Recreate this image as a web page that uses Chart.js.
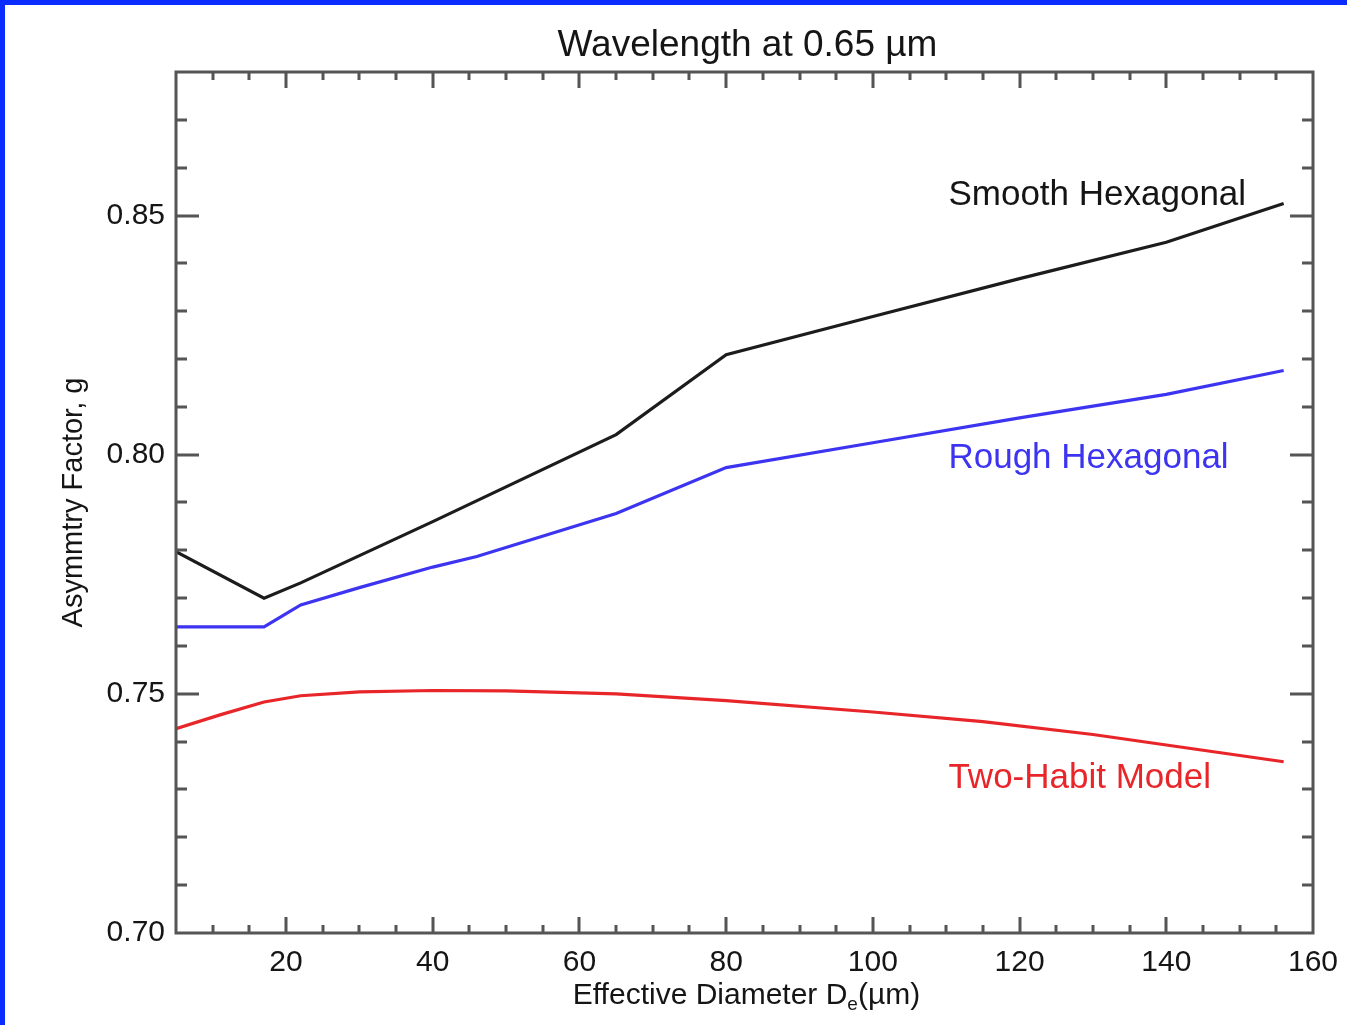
<!DOCTYPE html>
<html>
<head>
<meta charset="utf-8">
<title>Asymmetry factor vs effective diameter</title>
<script src="https://cdn.jsdelivr.net/npm/chart.js@4.4.1/dist/chart.umd.min.js"></script>
<style>
  html, body { margin: 0; padding: 0; background: #fff; }
  #wrap { position: relative; width: 1347px; height: 1025px; }
  #wrap::after {
    content: ''; position: absolute; left: 0; top: 0; right: 0; bottom: 0;
    border-top: 5px solid #0a2cff; border-left: 5px solid #0a2cff;
    pointer-events: none;
  }
  canvas { display: block; }
</style>
</head>
<body>
<div id="wrap"><canvas id="gChart" width="1347" height="1025"></canvas></div>
<script>
// effective diameter (um) and asymmetry factor for each habit
const smoothD = [5, 17, 22, 40, 65, 80, 100, 120, 140, 156];
const smoothG = [0.7797, 0.7700, 0.7732, 0.7860, 0.8042, 0.8209, 0.8289, 0.8368, 0.8444, 0.8525];

const roughD = [5, 17, 22, 30, 40, 46, 65, 80, 100, 120, 140, 156];
const roughG = [0.7640, 0.7640, 0.7686, 0.7722, 0.7765, 0.7787, 0.7877, 0.7973, 0.8025, 0.8077, 0.8126, 0.8176];

const habitD = [5, 11, 17, 22, 30, 40, 50, 65, 80, 100, 115, 130, 140, 156];
const habitG = [0.7427, 0.7456, 0.7483, 0.7496, 0.7504, 0.7507, 0.7506, 0.7500, 0.7486, 0.7462, 0.7442, 0.7415, 0.7393, 0.7358];

const seriesNames = ['Smooth Hexagonal', 'Rough Hexagonal', 'Two-Habit Model'];

// axis ticks
const xTicks = [20, 40, 60, 80, 100, 120, 140, 160];
const yTicks = [0.70, 0.75, 0.80, 0.85];

const FONT = '"Liberation Sans", Arial, Helvetica, sans-serif';
const INK = '#151515';
const COLORS = ['#1c1c1c', '#3c34f0', '#e8262a'];

function pts(xs, ys) {
  return xs.map((v, i) => ({ x: v, y: ys[i] }));
}

// box frame with inward ticks on all four sides, plus title and x caption
const frameTicks = {
  id: 'frameTicks',
  afterDatasetsDraw(chart) {
    const { ctx, chartArea: a, scales: { x, y } } = chart;
    ctx.save();
    ctx.strokeStyle = '#555';
    ctx.lineWidth = 3;
    ctx.lineCap = 'butt';
    ctx.beginPath();
    for (let v = 10; v < 160; v += 5) {
      const px = Math.round(x.getPixelForValue(v));
      const len = v % 20 === 0 ? 16 : 8;
      ctx.moveTo(px, a.bottom); ctx.lineTo(px, a.bottom - len);
      ctx.moveTo(px, a.top); ctx.lineTo(px, a.top + len);
    }
    for (let i = 71; i < 88; i++) {
      const py = Math.round(y.getPixelForValue(i / 100));
      const len = i % 5 === 0 ? 23 : 11;
      ctx.moveTo(a.left, py); ctx.lineTo(a.left + len, py);
      ctx.moveTo(a.right, py); ctx.lineTo(a.right - len, py);
    }
    ctx.stroke();
    ctx.strokeRect(a.left, a.top, a.right - a.left, a.bottom - a.top);

    const cx = (a.left + a.right) / 2;
    ctx.fillStyle = INK;
    ctx.textBaseline = 'alphabetic';

    // title over the plot box
    ctx.textAlign = 'center';
    ctx.font = '37px ' + FONT;
    ctx.fillText('Wavelength at 0.65 \u00b5m', cx + 3, 56);

    // x axis caption with subscript
    ctx.textAlign = 'left';
    const big = '30px ' + FONT, small = '19px ' + FONT;
    const p1 = 'Effective Diameter D', p2 = 'e', p3 = '(\u00b5m)';
    ctx.font = big; const w1 = ctx.measureText(p1).width, w3 = ctx.measureText(p3).width;
    ctx.font = small; const w2 = ctx.measureText(p2).width;
    let tx = cx - (w1 + w2 + w3) / 2 + 2;
    const base = 1004;
    ctx.font = big; ctx.fillText(p1, tx, base); tx += w1;
    ctx.font = small; ctx.fillText(p2, tx, base + 6); tx += w2;
    ctx.font = big; ctx.fillText(p3, tx, base);
    ctx.restore();
  }
};

// series names placed inside the plot
const curveLabels = {
  id: 'curveLabels',
  afterDatasetsDraw(chart) {
    const { ctx, scales: { x, y } } = chart;
    const spots = [[110.3, 0.8542], [110.3, 0.7992], [110.3, 0.7324]];
    ctx.save();
    ctx.font = '35px ' + FONT;
    ctx.textBaseline = 'middle';
    ctx.textAlign = 'left';
    seriesNames.forEach((name, i) => {
      ctx.fillStyle = i === 0 ? INK : COLORS[i];
      ctx.fillText(name, x.getPixelForValue(spots[i][0]), y.getPixelForValue(spots[i][1]));
    });
    ctx.restore();
  }
};

new Chart(document.getElementById('gChart'), {
  type: 'line',
  data: {
    datasets: [
      { label: seriesNames[0], data: pts(smoothD, smoothG), borderColor: COLORS[0] },
      { label: seriesNames[1], data: pts(roughD, roughG), borderColor: COLORS[1] },
      { label: seriesNames[2], data: pts(habitD, habitG), borderColor: COLORS[2] }
    ]
  },
  options: {
    responsive: false,
    animation: false,
    layout: { padding: { left: 0, right: 34, top: 72, bottom: 0 } },
    elements: {
      point: { radius: 0 },
      line: { borderWidth: 3.2, tension: 0, fill: false }
    },
    plugins: {
      legend: { display: false },
      tooltip: { enabled: false },
      title: { display: false }
    },
    scales: {
      x: {
        type: 'linear',
        min: 5,
        max: 160,
        grid: { display: false, drawTicks: false },
        border: { display: false },
        afterBuildTicks: s => { s.ticks = xTicks.map(v => ({ value: v })); },
        afterFit: s => { s.height = 92; s.paddingLeft = 0; s.paddingRight = 0; },
        ticks: {
          padding: 12,
          autoSkip: false,
          maxRotation: 0,
          color: INK,
          font: { family: FONT, size: 30 }
        }
      },
      y: {
        min: 0.70,
        max: 0.88,
        grid: { display: false, drawTicks: false },
        border: { display: false },
        afterBuildTicks: s => { s.ticks = yTicks.map(v => ({ value: v })); },
        afterFit: s => { s.width = 176; s.paddingTop = 0; s.paddingBottom = 0; },
        ticks: {
          padding: 11,
          color: INK,
          font: { family: FONT, size: 30 },
          callback: v => v.toFixed(2)
        },
        title: {
          display: true,
          text: 'Asymmtry Factor, g',
          color: INK,
          font: { family: FONT, size: 29 },
          padding: { top: 57, bottom: 0 }
        }
      }
    }
  },
  plugins: [frameTicks, curveLabels]
});
</script>
</body>
</html>
